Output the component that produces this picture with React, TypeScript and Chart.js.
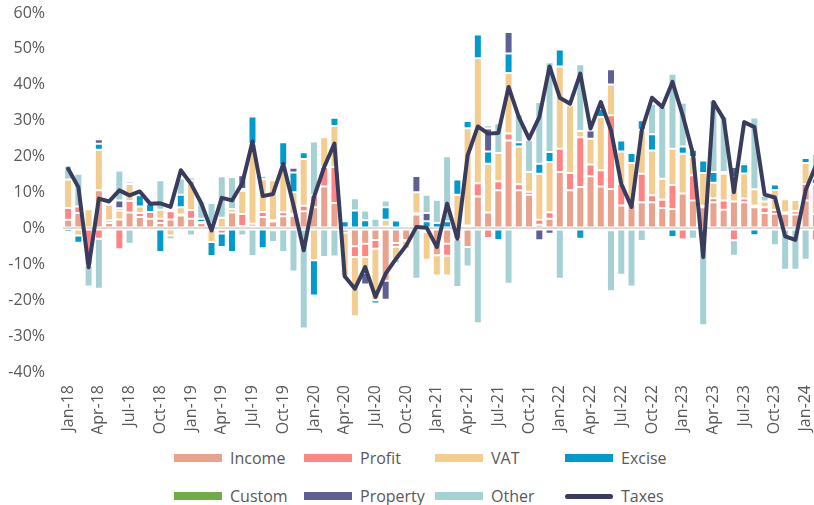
import React, { useEffect, useRef } from "react";
import { Chart, registerables } from "chart.js";

Chart.register(...registerables);

const months = [
  "Jan-18","Feb-18","Mar-18","Apr-18","May-18","Jun-18","Jul-18","Aug-18","Sep-18","Oct-18","Nov-18","Dec-18",
  "Jan-19","Feb-19","Mar-19","Apr-19","May-19","Jun-19","Jul-19","Aug-19","Sep-19","Oct-19","Nov-19","Dec-19",
  "Jan-20","Feb-20","Mar-20","Apr-20","May-20","Jun-20","Jul-20","Aug-20","Sep-20","Oct-20","Nov-20","Dec-20",
  "Jan-21","Feb-21","Mar-21","Apr-21","May-21","Jun-21","Jul-21","Aug-21","Sep-21","Oct-21","Nov-21","Dec-21",
  "Jan-22","Feb-22","Mar-22","Apr-22","May-22","Jun-22","Jul-22","Aug-22","Sep-22","Oct-22","Nov-22","Dec-22",
  "Jan-23","Feb-23","Mar-23","Apr-23","May-23","Jun-23","Jul-23","Aug-23","Sep-23","Oct-23","Nov-23","Dec-23",
  "Jan-24","Feb-24",
];

const income = [
  2.4, 4.3, 0, 10.6, 1.5, 2.5, 4.4, 3.2, 2.7, 1.5, 2.5, 3.6,
  2.7, 1.5, 0.5, -0.4, 4.4, 0.7, 0.5, 3.2, 1.9, 3.4, 3.5, 4.8,
  5.9, 11.7, 7.1, -1.2, -5.0, -4.3, -3.2, -14.6, -4.1, -3.2, 3.9, -0.6,
  -7.5, -4.3, -1.0, -5.2, 8.9, 4.4, 10.6, 24.5, 10.6, 9.4, 1.0, 2.7,
  15.7, 10.6, 11.5, 14.5, 11.7, 11.0, 6.4, 6.8, 7.3, 7.3, 5.7, 5.4,
  9.7, 7.8, 5.9, 7.3, 5.2, 7.5, 7.3, 5.9, 4.3, 4.1, 4.1, 3.9,
  7.8, 4.0,
];

const profit = [
  3.3, 1.8, -10.3, -2.9, 0.7, -5.8, 3.2, 1.1, 1.9, 1.2, 2.3, 0.3,
  2.4, 0.3, 0.8, -1.0, 0, 3.3, 0.8, 1.4, 0.4, 1.1, 0.6, 1.5,
  3.3, 5.4, 10.0, 0, -3.0, -3.7, -2.5, 0.5, -1.0, -0.3, 0.3, -0.4,
  0, -3.3, -2.0, 0.8, 3.7, -2.7, 2.5, 1.9, 1.7, 0.8, 1.4, 1.8,
  6.5, 4.8, 13.9, 3.3, 4.5, 20.5, 6.0, 0.5, 7.9, 1.9, 2.3, 6.7,
  -3.1, 7.0, 0.4, 1.1, 2.6, -3.3, 1.0, 0.5, 1.6, 1.0, 0.3, 0.9,
  4.6, -3.3,
];

const vat = [
  7.9, -2.0, 5.3, 11.3, 4.4, 2.5, 4.8, 1.8, -0.5, 2.5, -2.0, 2.0,
  8.3, 0, -3.8, 3.0, 1.0, 6.5, 22.3, 9.1, 11.1, 13.0, 6.0, 13.0,
  -8.9, 8.3, 11.4, -12.3, -16.5, -4.4, -14.3, 1.9, -3.4, -2.2, 5.9, -7.7,
  -5.6, -5.5, 9.4, 27.1, 34.8, 13.6, 7.9, 16.9, 10.5, 5.5, 12.8, 14.0,
  22.9, 18.9, 1.7, 7.2, 14.8, 8.6, 9.0, 10.9, 12.3, 12.5, 5.8, 10.1,
  11.1, 5.1, 9.1, 4.3, 7.4, 6.8, 7.0, 4.5, 1.6, 5.6, 3.7, 3.1,
  5.8, 8.4,
];

const excise = [
  -1.0, -2.0, 0, 1.7, 0, 0.6, 0.6, 3.1, 2.3, -6.6, 0, 3.5,
  0.7, 0.9, -3.9, -3.8, -6.6, 0.5, 7.6, -5.5, -0.5, 6.5, 5.5, 1.9,
  -9.8, 0.5, 2.3, 2.0, 5.0, 2.3, -0.9, 3.5, 2.2, 0.7, 0, 2.0,
  1.5, 2.0, 4.2, 2.0, 6.6, 3.4, -3.2, 5.4, 1.2, -0.5, 2.8, 2.8,
  4.7, 0, -2.9, -0.3, 2.3, -0.5, 3.1, 2.8, 2.6, 4.5, 0, -2.4,
  2.0, 2.0, 3.5, 3.0, 0.5, 0, 2.6, -1.9, 0, 1.5, 0, 0.6,
  1.4, 1.5,
];

const custom = [
  0, 0, 0, 0, 0, 0, 0, 0, 0, 0, 0, 0,
  0, 0, 0, 0, 0, 0, 0, 0, 0, 0, 0, 0,
  0, 0, 0, 0, 0, 0, 0, 0, 0, 0, 0, 0,
  0, 0, 0, 0, 0, 0, 0, 0, 0, 0, 0, 0,
  0, 0, 0, 0, 0, 0, 0, 0, 0, 0, 0, 0,
  0, 0, 0, 0, 0, 0, 0, 0, 0, 0, 0, 0,
  0, 0,
];

const property = [
  0, 0, 0, 1.2, 0, 2.2, 0, 0, 0, 0, 0, 0,
  0, 0, 0, -0.5, 0, 3.8, 0, -0.6, 0, 0, 1.3, 0,
  0, 0, 0, 0, 0, -3.2, 0, -5.3, 0, 0, 4.5, 2.3,
  0, 0, 0, 0, 0, 6.4, 0, 6.0, 0, 0, -3.3, -1.5,
  0, 0, 0, 2.3, 0, 4.2, 0, 0, 0, 0, 0, 0,
  0, 0, 0, -0.7, 0, 2.8, 0, 0, 0, 0, 0.4, 0,
  0, 0,
];

const other = [
  3.9, 9.1, -5.9, -13.9, 0, 8.3, -4.3, 0, 0, 8.2, -1.0, 4.5,
  -2.0, 4.8, 5.8, 11.5, 8.9, -2.0, -7.7, 1.0, -3.3, -6.6, -12.0, -27.9,
  15.0, -8.0, -7.8, -0.6, 3.4, 2.7, 2.7, 1.9, -1.2, 0, -14.0, 5.1,
  6.5, 18.1, -13.3, -5.4, -26.4, 0.9, 8.3, -15.4, 7.9, 9.0, 17.2, 25.0,
  -14.0, 0, 18.6, 0, 0, -17.0, -12.9, -16.2, -3.5, 8.5, 20.0, 20.9,
  12.2, -2.9, -27.0, 20.1, 15.5, -4.3, 0.6, 20.0, 1.5, -4.7, -11.5, -11.5,
  -8.7, 6.9,
];

const taxes = [
  16.6, 11.5, -10.8, 8.3, 7.5, 10.6, 9.2, 10.3, 6.9, 7.0, 6.0, 16.2,
  12.4, 7.0, -0.6, 8.5, 7.8, 12.6, 24.2, 9.0, 9.6, 18.0, 6.5, -6.1,
  8.7, 17.1, 23.6, -13.3, -16.8, -10.8, -19.1, -12.6, -8.5, -4.8, 0.4, 0.2,
  -5.2, 6.9, -2.9, 20.3, 28.4, 26.4, 26.6, 39.4, 31.0, 25.0, 31.0, 45.1,
  36.4, 34.7, 43.1, 27.8, 35.2, 27.3, 12.4, 6.0, 27.3, 36.4, 33.8, 40.8,
  31.5, 20.8, -8.0, 35.2, 30.5, 10.1, 29.6, 28.2, 9.4, 8.6, -2.2, -3.2,
  10.6, 17.5,
];

const FONT = "'Open Sans', sans-serif";
const TEXT = "#595959";

const COLORS = {
  income: "#E9A28C",
  profit: "#FF8585",
  vat: "#F3CD90",
  excise: "#009BCB",
  custom: "#70AD47",
  property: "#5E6094",
  other: "#A5D1D4",
  taxes: "#3A3C5E",
};

const legendItems = [
  { label: "Income", color: COLORS.income, line: false, x: 174, y: 458 },
  { label: "Profit", color: COLORS.profit, line: false, x: 304, y: 458 },
  { label: "VAT", color: COLORS.vat, line: false, x: 435, y: 458 },
  { label: "Excise", color: COLORS.excise, line: false, x: 565, y: 458 },
  { label: "Custom", color: COLORS.custom, line: false, x: 174, y: 496 },
  { label: "Property", color: COLORS.property, line: false, x: 304, y: 496 },
  { label: "Other", color: COLORS.other, line: false, x: 435, y: 496 },
  { label: "Taxes", color: COLORS.taxes, line: true, x: 565, y: 496 },
];

function barSet(label: string, data: number[], color: string) {
  return {
    type: "bar" as const,
    label,
    data,
    backgroundColor: color,
    borderColor: "#ffffff",
    borderWidth: 1,
    borderSkipped: false,
    stack: "contrib",
    order: 2,
    barPercentage: 0.78,
    categoryPercentage: 1,
  };
}

export default function App() {
  const ref = useRef<HTMLCanvasElement | null>(null);

  useEffect(() => {
    if (!ref.current) return;
    const chart = new Chart(ref.current, {
      type: "bar",
      data: {
        labels: months,
        datasets: [
          barSet("Income", income, COLORS.income),
          barSet("Profit", profit, COLORS.profit),
          barSet("VAT", vat, COLORS.vat),
          barSet("Excise", excise, COLORS.excise),
          barSet("Custom", custom, COLORS.custom),
          barSet("Property", property, COLORS.property),
          barSet("Other", other, COLORS.other),
          {
            type: "line" as const,
            label: "Taxes",
            data: taxes,
            borderColor: COLORS.taxes,
            backgroundColor: COLORS.taxes,
            borderWidth: 4,
            pointRadius: 0,
            tension: 0,
            borderJoinStyle: "round",
            borderCapStyle: "round",
            stack: "total",
            order: 0,
          } as any,
        ],
      },
      options: {
        responsive: false,
        animation: false,
        layout: { padding: { top: 0, right: 9, bottom: 0, left: 0 } },
        plugins: {
          legend: { display: false },
          tooltip: { enabled: false },
        },
        scales: {
          x: {
            offset: true,
            grid: { display: false, drawTicks: false },
            border: { display: false },
            ticks: {
              autoSkip: false,
              maxRotation: 90,
              minRotation: 90,
              padding: 13,
              color: TEXT,
              font: { family: FONT, size: 16 },
              callback: (_v: any, i: number) => (i % 3 === 0 ? months[i] : ""),
            },
            afterFit: (s: any) => {
              s.height = 62;
              s.paddingLeft = 0;
              s.paddingRight = 0;
            },
          },
          y: {
            stacked: true,
            min: -40,
            max: 60,
            ticks: {
              stepSize: 10,
              padding: 18,
              color: TEXT,
              font: { family: FONT, size: 16 },
              callback: (v: any) => v + "%",
            },
            grid: {
              drawTicks: false,
              lineWidth: 2,
              color: (c: any) => (c.tick && c.tick.value === 0 ? "#D9D9D9" : "rgba(0,0,0,0)"),
            },
            border: { display: false },
            afterFit: (s: any) => {
              s.width = 63;
              s.paddingTop = 13;
              s.paddingBottom = 0;
            },
          },
        },
      },
    });
    return () => chart.destroy();
  }, []);

  return (
    <div
      style={{
        position: "fixed",
        left: 0,
        top: 0,
        width: 814,
        height: 505,
        overflow: "hidden",
        background: "#ffffff",
      }}
    >
      <canvas ref={ref} width={830} height={434} style={{ position: "absolute", left: 0, top: 0 }} />
      {legendItems.map((it) => (
        <div
          key={it.label}
          style={{
            position: "absolute",
            left: it.x,
            top: it.y - 12,
            height: 24,
            display: "flex",
            alignItems: "center",
            fontFamily: FONT,
            fontSize: 16,
            color: TEXT,
            whiteSpace: "nowrap",
          }}
        >
          <div
            style={{
              width: 48,
              height: it.line ? 5 : 8,
              borderRadius: it.line ? 3 : 0,
              background: it.color,
              marginRight: 8,
            }}
          />
          <span>{it.label}</span>
        </div>
      ))}
    </div>
  );
}
